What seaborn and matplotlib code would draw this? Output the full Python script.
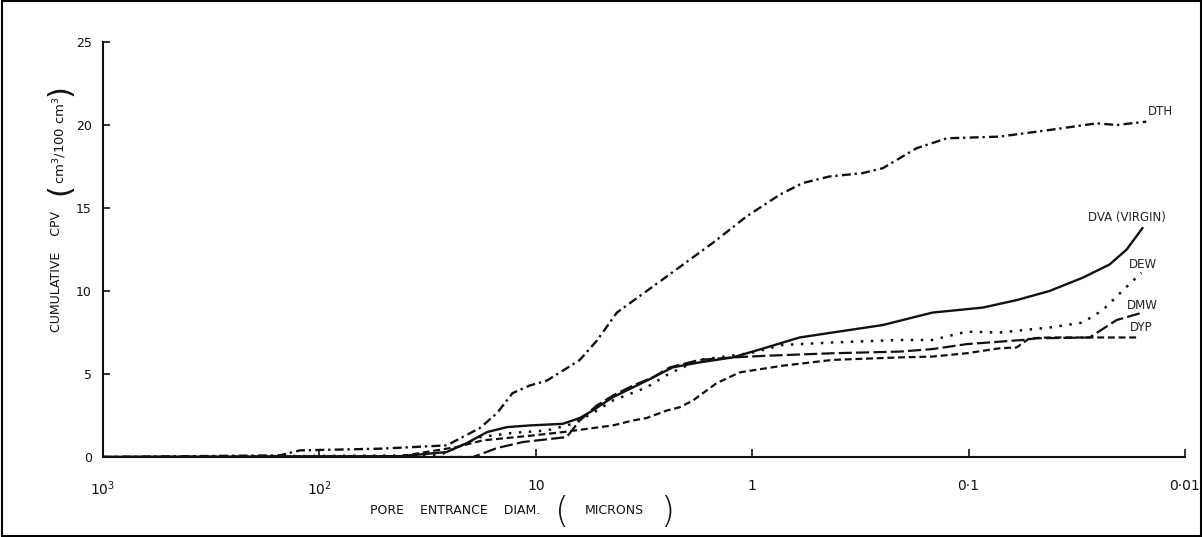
import numpy as np
import pandas as pd
import seaborn as sns
import matplotlib
matplotlib.use("Agg")
import matplotlib.pyplot as plt
from matplotlib.patches import Rectangle

# ---------------- data (pore entrance diameter in microns, cumulative CPV) ----------------
dth_d = [1000, 152, 123, 52.6, 25.8, 18.1, 15.1, 12.8, 10.7, 8.9, 7.5, 6.26, 5.23, 4.22,
         2.59, 1.52, 1.06, 0.746, 0.585, 0.439, 0.309, 0.249, 0.174, 0.126, 0.0719,
         0.0423, 0.0256, 0.0207, 0.0151]
dth_v = [0, 0.1, 0.4, 0.5, 0.7, 1.75, 2.65, 3.85, 4.3, 4.6, 5.2, 5.85, 7.0, 8.7,
         10.7, 12.9, 14.5, 15.8, 16.5, 16.9, 17.1, 17.4, 18.6, 19.2, 19.3,
         19.7, 20.1, 20.0, 20.2]

dva_d = [1000, 42, 25.8, 20.8, 16.8, 13.6, 10.7, 7.5, 6.26, 5.46, 4.41, 3.07, 2.33,
         1.75, 1.23, 0.857, 0.604, 0.425, 0.249, 0.147, 0.0861, 0.060, 0.0423,
         0.0297, 0.0223, 0.0186, 0.0157]
dva_v = [0, 0.05, 0.3, 0.84, 1.5, 1.8, 1.9, 2.0, 2.35, 2.8, 3.6, 4.6, 5.4,
         5.7, 6.0, 6.6, 7.2, 7.5, 7.95, 8.7, 9.0, 9.45, 10.0,
         10.8, 11.6, 12.5, 13.8]

dew_d = [1000, 28, 18.1, 12.8, 8.9, 6.75, 5.46, 4.41, 3.07, 2.4, 1.75, 1.03, 0.723,
         0.425, 0.208, 0.147, 0.102, 0.0719, 0.0423, 0.0297, 0.024, 0.0195, 0.0159]
dew_v = [0, 0.1, 1.2, 1.45, 1.6, 2.0, 2.65, 3.4, 4.2, 5.05, 5.85, 6.25, 6.75,
         6.9, 7.05, 7.05, 7.55, 7.5, 7.8, 8.1, 8.85, 10.0, 11.1]

dmw_d = [1000, 19.5, 15.1, 11.5, 7.2, 6.26, 5.23, 4.41, 3.56, 2.88, 2.4, 1.75, 1.23,
         0.857, 0.425, 0.208, 0.147, 0.102, 0.0563, 0.0485, 0.0276, 0.0207, 0.0162]
dmw_v = [0, 0, 0.54, 0.9, 1.2, 2.2, 3.1, 3.7, 4.3, 4.8, 5.4, 5.85, 6.0,
         6.1, 6.25, 6.35, 6.5, 6.8, 7.05, 7.15, 7.2, 8.25, 8.65]

dyp_d = [1000, 42, 23.2, 17.6, 10.3, 7.5, 5.06, 4.41, 3.56, 3.07, 2.48, 2.16, 1.88,
         1.46, 1.14, 0.723, 0.425, 0.208, 0.147, 0.102, 0.0719, 0.060, 0.0523,
         0.0423, 0.0162]
dyp_v = [0, 0.05, 0.6, 1.0, 1.3, 1.5, 1.8, 1.9, 2.2, 2.35, 2.8, 3.0, 3.4,
         4.45, 5.1, 5.5, 5.85, 6.0, 6.05, 6.25, 6.55, 6.6, 7.15,
         7.2, 7.2]

series_names = ["DTH", "DVA (VIRGIN)", "DEW", "DMW", "DYP"]
label_pos_d = [0.013, 0.0185, 0.0157, 0.0157, 0.0160]
label_pos_v = [20.8, 14.4, 11.6, 9.15, 7.8]

x_ticks = [1000, 100, 10, 1, 0.1, 0.01]
x_ticklabels = ["10$^3$", "10$^2$", "10", "1", "0·1", "0·01"]
y_ticks = [0, 5, 10, 15, 20, 25]

# ---------------- figure ----------------
sns.set_theme(style="white")
plt.rcParams["font.family"] = ["DejaVu Sans"]
W, H = 1203, 537
fig = plt.figure(figsize=(W / 100, H / 100), dpi=100)
ax = fig.add_axes([103 / W, 1 - 457 / H, (1185 - 103) / W, (457 - 42) / H])
ax.set_xscale("log")

styles = [
    dict(linestyle=(0, (3.8, 1.6, 1.0, 1.8)), linewidth=1.7),
    dict(linestyle="-", linewidth=1.7),
    dict(linestyle=(0, (1.0, 3.0)), linewidth=1.8),
    dict(linestyle=(0, (5.9, 1.9)), linewidth=1.6),
    dict(linestyle=(0, (3.1, 1.7)), linewidth=1.6),
]
data = [(dth_d, dth_v), (dva_d, dva_v), (dew_d, dew_v), (dmw_d, dmw_v), (dyp_d, dyp_v)]
for (d, v), st in zip(data, styles):
    df = pd.DataFrame({"d": d, "v": v})
    sns.lineplot(data=df, x="d", y="v", ax=ax, color="#111111", estimator=None,
                 sort=False, **st)

ax.set_xlim(1000, 0.01)
ax.set_ylim(0, 25)
ax.set_xticks(x_ticks)
ax.set_xticklabels(x_ticklabels)
ax.minorticks_off()
ax.set_yticks(y_ticks)
ax.set_yticklabels([str(t) for t in y_ticks])
ax.set_xlabel("")
ax.set_ylabel("")
sns.despine(ax=ax)
for s in ["left", "bottom"]:
    ax.spines[s].set_color("#111111")
    ax.spines[s].set_linewidth(1.5)
ax.tick_params(axis="x", direction="in", length=6, width=1.2, pad=16,
               labelsize=10, colors="#111111", bottom=True)
ax.tick_params(axis="y", direction="in", length=5, width=1.2, pad=8,
               labelsize=9, colors="#111111", left=True)

for name, xd, yv in zip(series_names, label_pos_d, label_pos_v):
    ax.text(xd, yv, name, fontsize=8.5, ha="center", va="center", color="#222222")

def ftext(x, y, s, **kw):
    fig.text(x / W, 1 - y / H, s, **kw)

# x-axis label
ftext(455, 510, "PORE    ENTRANCE    DIAM.", fontsize=9, ha="center", va="center",
      color="#111111")
ftext(562, 512, "(", fontsize=26, ha="center", va="center", color="#111111",
      fontweight="light")
ftext(614, 510, "MICRONS", fontsize=9, ha="center", va="center", color="#111111")
ftext(667, 512, ")", fontsize=26, ha="center", va="center", color="#111111",
      fontweight="light")

# y-axis label (reads bottom to top)
ftext(57, 272, "CUMULATIVE    CPV", fontsize=9, ha="center", va="center",
      rotation=90, color="#111111")
ftext(60, 189, "(", fontsize=22, ha="center", va="center", rotation=90,
      color="#111111")
ftext(60, 140, "cm$^3$/100 cm$^3$", fontsize=9.5, ha="center", va="center",
      rotation=90, color="#111111")
ftext(60, 90, ")", fontsize=22, ha="center", va="center", rotation=90,
      color="#111111")

# scan border
fig.patches.append(Rectangle((0.002, 0.002), 0.996, 0.996, transform=fig.transFigure,
                             fill=False, edgecolor="black", linewidth=1.5))

fig.savefig("out.png", dpi=100)
